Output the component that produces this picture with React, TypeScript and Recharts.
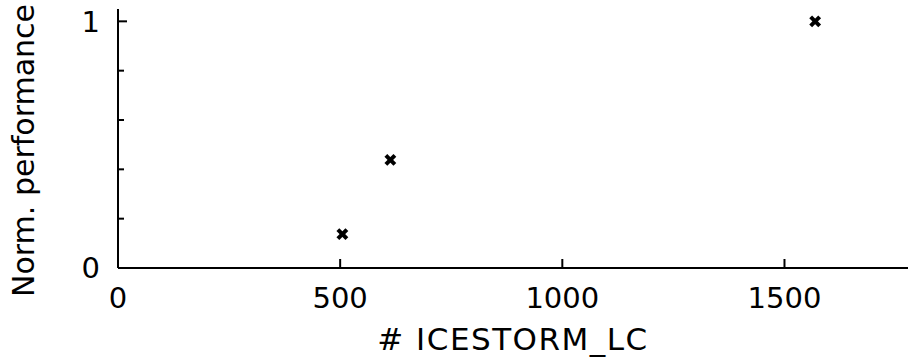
import { ScatterChart, Scatter, XAxis, YAxis, Label } from 'recharts';

// LUT count vs. normalised performance
const lcCounts = [505, 613, 1569];
const normPerf = [0.137, 0.438, 1.0];

const xTicks = [0, 500, 1000, 1500];
const yTicks = [0, 0.2, 0.4, 0.6, 0.8, 1];
const yLabelled = [0, 1];

const points = lcCounts.map((lc, i) => ({ lc, perf: normPerf[i] }));

const FONT = '"DejaVu Sans", sans-serif';
const INK = '#000';

// ticks point into the plot; labels sit outside
function XTick({ x, y, payload }: any) {
  return (
    <g>
      <line x1={x} x2={x} y1={y} y2={y - 9} stroke={INK} strokeWidth={2} />
      <text x={x} y={y + 40} textAnchor="middle" fontSize={29} fontFamily={FONT} fill={INK}>
        {payload.value}
      </text>
    </g>
  );
}

function YTick({ x, y, payload }: any) {
  const major = yLabelled.includes(payload.value);
  return (
    <g>
      <line x1={x} x2={x + (major ? 9 : 6)} y1={y} y2={y} stroke={INK} strokeWidth={2} />
      {major && (
        <text x={x - 18} y={y} dy="0.36em" textAnchor="end" fontSize={29} fontFamily={FONT} fill={INK}>
          {payload.value}
        </text>
      )}
    </g>
  );
}

function Cross({ cx, cy }: any) {
  const h = 4.5;
  return (
    <g stroke={INK} strokeWidth={4}>
      <line x1={cx - h} y1={cy - h} x2={cx + h} y2={cy + h} />
      <line x1={cx - h} y1={cy + h} x2={cx + h} y2={cy - h} />
    </g>
  );
}

function YTitle({ viewBox }: any) {
  const cy = viewBox.y + viewBox.height / 2 + 12;
  return (
    <text
      x={33.5}
      y={cy}
      transform={`rotate(-90, 33.5, ${cy})`}
      textAnchor="middle"
      fontSize={30}
      fontFamily={FONT}
      fill={INK}
    >
      Norm. performance
    </text>
  );
}

function XTitle({ viewBox }: any) {
  return (
    <text
      x={viewBox.x + viewBox.width / 2}
      y={350}
      textAnchor="middle"
      fontSize={31}
      letterSpacing={1.5}
      fontFamily={FONT}
      fill={INK}
    >
      # ICESTORM_LC
    </text>
  );
}

export default function App() {
  return (
    <div style={{ position: 'absolute', left: 0, top: 0, background: '#fff' }}>
      <ScatterChart width={909} height={361} margin={{ top: 9, right: 1, bottom: 0, left: 0 }}>
        <XAxis
          type="number"
          dataKey="lc"
          domain={[0, 1778]}
          ticks={xTicks}
          height={93}
          tickSize={0}
          tickMargin={0}
          tickLine={false}
          axisLine={{ stroke: INK, strokeWidth: 2 }}
          tick={<XTick />}
          interval={0}
        >
          <Label content={<XTitle />} />
        </XAxis>
        <YAxis
          type="number"
          dataKey="perf"
          domain={[0, 1.05]}
          ticks={yTicks}
          width={118}
          tickSize={0}
          tickMargin={0}
          tickLine={false}
          axisLine={{ stroke: INK, strokeWidth: 2 }}
          tick={<YTick />}
          interval={0}
        >
          <Label content={<YTitle />} />
        </YAxis>
        <Scatter data={points} fill={INK} shape={<Cross />} isAnimationActive={false} />
      </ScatterChart>
    </div>
  );
}
